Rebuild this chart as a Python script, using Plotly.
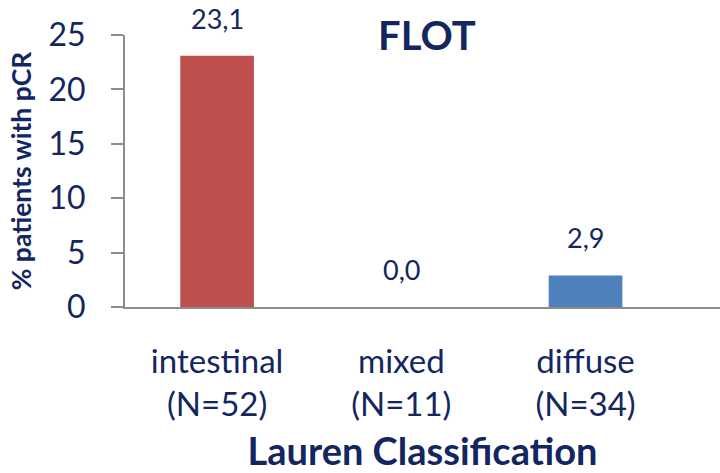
import plotly.graph_objects as go

# pCR rates by Lauren classification (FLOT arm)
categories = ["intestinal", "mixed", "diffuse"]
group_sizes = [52, 11, 34]
pcr_rates = [23.1, 0.0, 2.9]
bar_colors = ["#C0504D", "#C0504D", "#4F81BD"]
y_ticks = [0, 5, 10, 15, 20, 25]

NAVY = "#13265F"
AXIS_GREY = "#8C8C8C"
FONT = "Lato"

tick_text = [f"{c}<br>(N={n})" for c, n in zip(categories, group_sizes)]
x_idx = list(range(len(categories)))

fig = go.Figure()
fig.add_trace(go.Bar(
    x=x_idx,
    y=pcr_rates,
    width=0.40,
    marker=dict(color=bar_colors, line=dict(width=0)),
    hoverinfo="skip",
))

# value labels in decimal-comma format above each bar
for xi, v in zip(x_idx, pcr_rates):
    fig.add_annotation(
        x=xi, y=v, xref="x", yref="y",
        text=f"{v:.1f}".replace(".", ","),
        showarrow=False, yanchor="bottom", yshift=19,
        font=dict(family=FONT, size=27, color=NAVY),
    )

fig.add_annotation(
    x=1, y=25, xref="x", yref="y",
    text="<b>FLOT</b>", showarrow=False, yanchor="middle",
    xshift=26,
    font=dict(family=FONT, size=40, color=NAVY),
)

fig.update_layout(
    width=720, height=473,
    margin=dict(l=125, r=0, t=35, b=166),
    paper_bgcolor="white", plot_bgcolor="white",
    showlegend=False,
    font=dict(family=FONT, color=NAVY),
    xaxis=dict(
        range=[-0.5, 2.73],
        tickmode="array", tickvals=x_idx, ticktext=tick_text,
        tickfont=dict(family=FONT, size=33, color=NAVY),
        ticklabelstandoff=24,
        showline=True, linecolor=AXIS_GREY, linewidth=2,
        ticks="", showgrid=False, zeroline=False,
        title=dict(text="<b>Lauren Classification</b>",
                   font=dict(family=FONT, size=38, color=NAVY), standoff=22),
    ),
    yaxis=dict(
        range=[0, 25],
        tickmode="array", tickvals=y_ticks,
        tickfont=dict(family=FONT, size=32, color=NAVY),
        showline=True, linecolor=AXIS_GREY, linewidth=2,
        ticks="outside", ticklen=12, tickcolor=AXIS_GREY, tickwidth=2,
        ticklabelstandoff=19,
        showgrid=False, zeroline=False,
        title=dict(text="<b>% patients with pCR</b>",
                   font=dict(family=FONT, size=26.5, color=NAVY), standoff=9),
    ),
)

fig.write_html("out.html")
